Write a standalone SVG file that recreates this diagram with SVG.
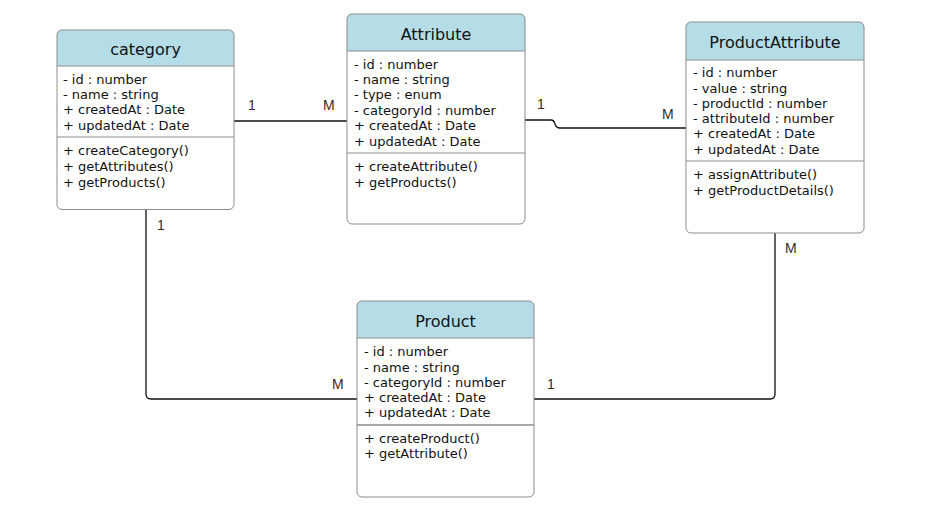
<svg xmlns="http://www.w3.org/2000/svg" width="951" height="517" viewBox="0 0 951 517">
<style>
.box{fill:none;stroke:#8c8c8c;stroke-width:1}
.hdr{fill:#b4dde7}
.sep{stroke:#8c8c8c;stroke-width:1}
.title{font-family:"DejaVu Sans",Verdana,sans-serif;font-size:16px;fill:#111;text-anchor:middle}
.t{font-family:"DejaVu Sans",Verdana,sans-serif;font-size:13px;fill:#111}
.lbl{font-family:"Liberation Sans",Arial,sans-serif;font-size:14px;fill:#3a2a1a}
.conn{fill:none;stroke:#111;stroke-width:1.3}
</style>
<rect width="951" height="517" fill="#fff"/>
<g id="connectors">
<path class="conn" d="M234,121 H347"/>
<path class="conn" d="M525,120 H551 Q554,120 555,124 Q556,128 560,128 H686"/>
<path class="conn" d="M146,210 V394 Q146,399 151,399 H357"/>
<path class="conn" d="M534,399 H770 Q775,399 775,394 V233"/>
<text class="lbl" x="248" y="110">1</text>
<text class="lbl" x="323" y="110">M</text>
<text class="lbl" x="537" y="109">1</text>
<text class="lbl" x="662" y="119">M</text>
<text class="lbl" x="157" y="230">1</text>
<text class="lbl" x="332" y="389">M</text>
<text class="lbl" x="547" y="389">1</text>
<text class="lbl" x="785" y="253">M</text>
</g>
<g id="category">
<path class="hdr" d="M57,66 V35 Q57,30 62,30 H229 Q234,30 234,35 V66 Z"/>
<rect class="box" x="57" y="30" width="177" height="179.5" rx="5"/>
<line class="sep" x1="57" y1="66" x2="234" y2="66"/>
<line class="sep" x1="57" y1="137" x2="234" y2="137"/>
<text class="title" x="145.5" y="55">category</text>
<text class="t" x="63" y="84">- id : number</text>
<text class="t" x="63" y="99">- name : string</text>
<text class="t" x="63" y="114">+ createdAt : Date</text>
<text class="t" x="63" y="130">+ updatedAt : Date</text>
<text class="t" x="63" y="155">+ createCategory()</text>
<text class="t" x="63" y="171">+ getAttributes()</text>
<text class="t" x="63" y="187">+ getProducts()</text>
</g>
<g id="Attribute">
<path class="hdr" d="M347,51 V19 Q347,14 352,14 H520 Q525,14 525,19 V51 Z"/>
<rect class="box" x="347" y="14" width="178" height="210" rx="5"/>
<line class="sep" x1="347" y1="51" x2="525" y2="51"/>
<line class="sep" x1="347" y1="153" x2="525" y2="153"/>
<text class="title" x="436" y="40">Attribute</text>
<text class="t" x="354" y="69">- id : number</text>
<text class="t" x="354" y="84">- name : string</text>
<text class="t" x="354" y="99">- type : enum</text>
<text class="t" x="354" y="115">- categoryId : number</text>
<text class="t" x="354" y="130">+ createdAt : Date</text>
<text class="t" x="354" y="146">+ updatedAt : Date</text>
<text class="t" x="354" y="171">+ createAttribute()</text>
<text class="t" x="354" y="187">+ getProducts()</text>
</g>
<g id="ProductAttribute">
<path class="hdr" d="M686,60 V27 Q686,22 691,22 H859 Q864,22 864,27 V60 Z"/>
<rect class="box" x="686" y="22" width="178" height="211" rx="5"/>
<line class="sep" x1="686" y1="60" x2="864" y2="60"/>
<line class="sep" x1="686" y1="161" x2="864" y2="161"/>
<text class="title" x="775" y="48">ProductAttribute</text>
<text class="t" x="693" y="77">- id : number</text>
<text class="t" x="693" y="93">- value : string</text>
<text class="t" x="693" y="108">- productId : number</text>
<text class="t" x="693" y="123">- attributeId : number</text>
<text class="t" x="693" y="138">+ createdAt : Date</text>
<text class="t" x="693" y="154">+ updatedAt : Date</text>
<text class="t" x="693" y="179">+ assignAttribute()</text>
<text class="t" x="693" y="195">+ getProductDetails()</text>
</g>
<g id="Product">
<path class="hdr" d="M357,338 V306 Q357,301 362,301 H529 Q534,301 534,306 V338 Z"/>
<rect class="box" x="357" y="301" width="177" height="196" rx="5"/>
<line class="sep" x1="357" y1="338" x2="534" y2="338"/>
<line class="sep" x1="357" y1="425" x2="534" y2="425" style="stroke-width:1.5"/>
<text class="title" x="445.5" y="327">Product</text>
<text class="t" x="364" y="356">- id : number</text>
<text class="t" x="364" y="372">- name : string</text>
<text class="t" x="364" y="387">- categoryId : number</text>
<text class="t" x="364" y="402">+ createdAt : Date</text>
<text class="t" x="364" y="417">+ updatedAt : Date</text>
<text class="t" x="364" y="443">+ createProduct()</text>
<text class="t" x="364" y="458">+ getAttribute()</text>
</g>
</svg>
